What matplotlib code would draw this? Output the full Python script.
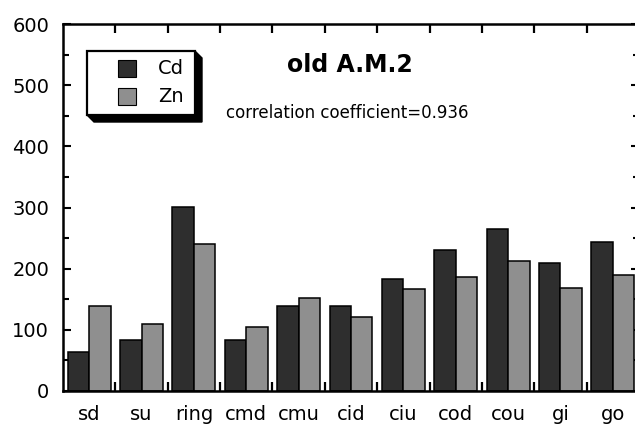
import matplotlib
matplotlib.use("Agg")
import matplotlib.pyplot as plt
import numpy as np
from matplotlib.patches import Rectangle, Polygon
from matplotlib.ticker import MultipleLocator, FixedLocator

categories = ["sd", "su", "ring", "cmd", "cmu", "cid", "ciu", "cod", "cou", "gi", "go"]
cd_values = [63, 84, 301, 84, 139, 139, 183, 231, 265, 210, 244]
zn_values = [139, 110, 241, 104, 152, 121, 166, 186, 213, 168, 189]
series_names = ["Cd", "Zn"]
title_text = "old A.M.2"
note_text = "correlation coefficient=0.936"

CD_COLOR = "#2e2e2e"
ZN_COLOR = "#8f8f8f"

W, H = 635, 426
fig = plt.figure(figsize=(W / 100, H / 100), dpi=100)
plt.rcParams['font.family'] = ['DejaVu Sans']

# axes extends slightly past the right edge (cropped like reference)
L, R, T, B = 63, 639, 24, 391
ax = fig.add_axes([L / W, 1 - B / H, (R - L) / W, (B - T) / H])

x = np.arange(len(categories))
bw = 0.41
ax.bar(x - bw / 2, cd_values, width=bw, color=CD_COLOR, edgecolor="black", linewidth=1.1, zorder=2)
ax.bar(x + bw / 2, zn_values, width=bw, color=ZN_COLOR, edgecolor="black", linewidth=1.1, zorder=2)

ax.set_xlim(-0.5, len(categories) - 0.5)
ax.set_ylim(0, 600)

for s in ax.spines.values():
    s.set_linewidth(1.8)

ax.set_xticks(x)
ax.set_xticklabels(categories, fontsize=14)
ax.xaxis.set_minor_locator(FixedLocator(x[:-1] + 0.5))
ax.tick_params(axis="x", which="major", length=0, pad=10)
ax.tick_params(axis="x", which="minor", direction="in", length=6.5, width=1.6, top=True, bottom=True)

ax.yaxis.set_major_locator(MultipleLocator(100))
ax.yaxis.set_minor_locator(MultipleLocator(50))
ax.tick_params(axis="y", which="major", direction="in", length=5.8, width=1.5, left=True, right=True, labelsize=14, pad=10)
ax.tick_params(axis="y", which="minor", direction="in", length=4.3, width=1.5, left=True, right=True)

ax.text(350 / (R - L) - L / (R - L), 1 - (65 - T) / (B - T), title_text, transform=ax.transAxes,
        fontsize=17, fontweight="bold", ha="center", va="center")
ax.text((226 - L) / (R - L), 1 - (113 - T) / (B - T), note_text, transform=ax.transAxes,
        fontsize=12, ha="left", va="center")

# legend drawn in figure pixel coords
def fx(px):
    return px / W

def fy(py):
    return 1 - py / H

bl, bt, br, bb = 87, 51, 195, 115
off = 7
shadow = Polygon([(fx(br), fy(bt)), (fx(br + off), fy(bt + off)), (fx(br + off), fy(bb + off)),
                  (fx(bl + off), fy(bb + off)), (fx(bl), fy(bb))],
                 closed=True, transform=fig.transFigure, facecolor="black", edgecolor="black", zorder=5)
fig.add_artist(shadow)
box = Rectangle((fx(bl), fy(bb)), fx(br) - fx(bl), fy(bt) - fy(bb), transform=fig.transFigure,
                facecolor="white", edgecolor="black", linewidth=1.6, zorder=6)
fig.add_artist(box)
for i, (name, col) in enumerate(zip(series_names, [CD_COLOR, ZN_COLOR])):
    top = 60 + i * 28
    fig.add_artist(Rectangle((fx(118), fy(top + 17)), fx(136) - fx(118), fy(top) - fy(top + 17),
                             transform=fig.transFigure, facecolor=col, edgecolor="black",
                             linewidth=0.8, zorder=7))
    fig.text(fx(158), fy(top + 8.5), name, fontsize=14, ha="left", va="center", zorder=7)

fig.savefig("out.png", dpi=100)
